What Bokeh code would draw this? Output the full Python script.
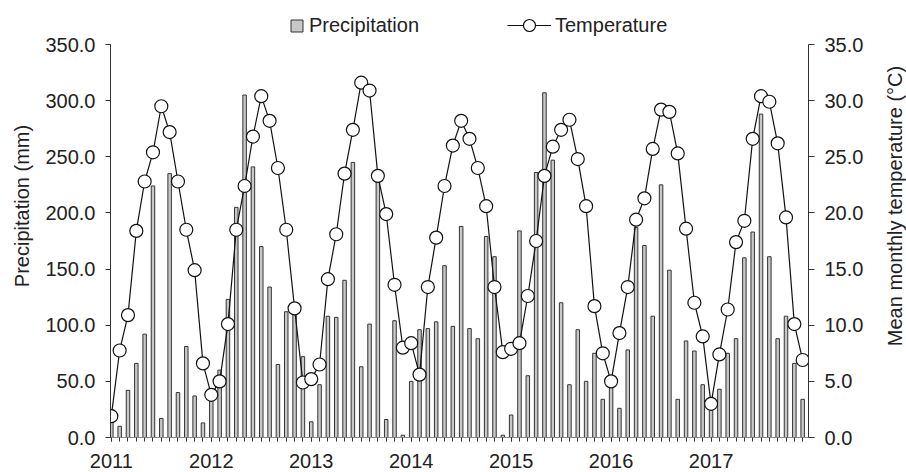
import math
from bokeh.plotting import figure
from bokeh.layouts import row
from bokeh.models import (Range1d, LinearAxis, FixedTicker, NumeralTickFormatter,
                          Legend, LegendItem, ColumnDataSource, Label)
from bokeh.embed import file_html
from bokeh.resources import INLINE

# ---- data ----
years = ["2011", "2012", "2013", "2014", "2015", "2016", "2017"]
months = list(range(84))
precipitation = [25, 10, 42, 66, 92, 224, 17, 235, 40, 81, 37, 13,
                 43, 60, 123, 205, 305, 241, 170, 134, 65, 112, 110, 72,
                 14, 47, 108, 107, 140, 245, 63, 101, 230, 16, 104, 2,
                 50, 96, 97, 103, 153, 99, 188, 97, 88, 179, 161, 2,
                 20, 184, 55, 236, 307, 247, 120, 47, 96, 50, 75, 34,
                 45, 26, 78, 187, 171, 108, 225, 149, 34, 86, 77, 47,
                 28, 43, 75, 88, 160, 183, 288, 161, 88, 108, 66, 34]
temperature = [1.9, 7.75, 10.9, 18.4, 22.8, 25.4, 29.5, 27.2, 22.8, 18.5, 14.9, 6.6,
               3.8, 5.0, 10.1, 18.5, 22.4, 26.8, 30.4, 28.2, 24.0, 18.5, 11.5, 4.9,
               5.2, 6.5, 14.1, 18.1, 23.5, 27.4, 31.6, 30.9, 23.3, 19.9, 13.6, 8.0,
               8.4, 5.6, 13.4, 17.8, 22.4, 26.0, 28.2, 26.6, 24.0, 20.6, 13.4, 7.6,
               7.9, 8.4, 12.6, 17.5, 23.3, 25.9, 27.4, 28.3, 24.8, 20.6, 11.7, 7.5,
               5.0, 9.3, 13.4, 19.4, 21.3, 25.7, 29.2, 29.0, 25.3, 18.6, 12.0, 9.0,
               3.0, 7.4, 11.4, 17.4, 19.3, 26.6, 30.4, 29.9, 26.2, 19.6, 10.1, 6.9]
precip_ticks = [0, 50, 100, 150, 200, 250, 300, 350]
temp_ticks = [0, 5, 10, 15, 20, 25, 30, 35]
left_title = "Precipitation (mm)"
right_title = "Mean monthly temperature (\u00b0C)"

FONT = "Liberation Sans"
FS = "20px"
TXT = "#222222"
H = 472

# axis spans 0..350 over 393 px; frame extends to the top of the canvas
PX_PER_MM = 393 / 350.0
P_TOP = 437 / PX_PER_MM
T_TOP = P_TOP / 10.0

src = ColumnDataSource(dict(m=months, p=precipitation, t=temperature))

LW, MW, RW = 36, 832, 38

p = figure(width=MW, height=H, output_backend="svg", toolbar_location=None,
           x_range=Range1d(-0.1, 83.7), y_range=Range1d(0, P_TOP),
           min_border_left=110 - LW, min_border_right=MW - (808 - LW),
           min_border_top=0, min_border_bottom=35, outline_line_color=None)
p.xgrid.visible = False
p.ygrid.visible = False
p.extra_y_ranges = {"temp": Range1d(0, T_TOP)}

bars = p.vbar(x="m", top="p", width=0.42, bottom=0, source=src,
              fill_color="#c8c8c8", line_color="#333333", line_width=1)
line = p.line(x="m", y="t", source=src, y_range_name="temp",
              line_color="#111111", line_width=1.2)
pts = p.scatter(x="m", y="t", source=src, y_range_name="temp", size=13,
                fill_color="white", line_color="#111111", line_width=1.2)

# bottom axis
xa = p.xaxis[0]
xa.ticker = FixedTicker(ticks=[12 * i for i in range(len(years))], minor_ticks=months)
xa.major_label_overrides = {12 * i: y for i, y in enumerate(years)}
xa.major_tick_out = 4
xa.major_tick_in = 0
xa.minor_tick_out = 4
xa.minor_tick_in = 0
xa.axis_line_color = "#888888"
xa.major_tick_line_color = "#333333"
xa.minor_tick_line_color = "#333333"
xa.major_label_standoff = 12
xa.major_label_text_font = FONT
xa.major_label_text_font_size = FS
xa.major_label_text_color = TXT

# left axis
ya = p.yaxis[0]
ya.ticker = FixedTicker(ticks=precip_ticks, minor_ticks=[])
ya.formatter = NumeralTickFormatter(format="0.0")
ya.bounds = (0, 350)
ya.major_tick_out = 5
ya.major_tick_in = 0
ya.major_label_standoff = 10
ya.axis_line_color = "#333333"
ya.major_tick_line_color = "#333333"
ya.major_label_text_font = FONT
ya.major_label_text_font_size = FS
ya.major_label_text_color = TXT

# right axis
ra = LinearAxis(y_range_name="temp", ticker=FixedTicker(ticks=temp_ticks, minor_ticks=[]),
                formatter=NumeralTickFormatter(format="0.0"), bounds=(0, 35))
ra.major_tick_out = 6
ra.major_tick_in = 0
ra.major_label_standoff = 10
ra.axis_line_color = "#333333"
ra.major_tick_line_color = "#333333"
ra.major_label_text_font = FONT
ra.major_label_text_font_size = FS
ra.major_label_text_color = TXT
p.add_layout(ra, "right")

# legends
leg1 = Legend(items=[LegendItem(label="Precipitation", renderers=[bars])],
              location=(179, 397), orientation="horizontal",
              glyph_width=15, glyph_height=15, label_standoff=5, label_height=30,
              label_text_font=FONT, label_text_font_size=FS, label_text_color=TXT,
              padding=0, margin=0, spacing=0, border_line_color=None,
              background_fill_alpha=0)
leg2 = Legend(items=[LegendItem(label="Temperature", renderers=[line, pts])],
              location=(397, 397), orientation="horizontal",
              glyph_width=44, glyph_height=30, label_standoff=4, label_height=30,
              label_text_font=FONT, label_text_font_size=FS, label_text_color=TXT,
              padding=0, margin=0, spacing=0, border_line_color=None,
              background_fill_alpha=0)
p.add_layout(leg1, "center")
p.add_layout(leg2, "center")

# axis titles (both read bottom-to-top, centred on the 0..350 axis span)
Y_MID = H - 240.5


def title_fig(w, text, x):
    f = figure(width=w, height=H, output_backend="svg", toolbar_location=None,
               x_axis_type=None, y_axis_type=None, x_range=Range1d(0, 1),
               y_range=Range1d(0, 1), min_border=0, outline_line_color=None)
    f.add_layout(Label(x=x, y=Y_MID, x_units="screen", y_units="screen", text=text,
                       angle=math.pi / 2, text_align="center", text_baseline="middle",
                       text_font=FONT, text_font_size=FS, text_color=TXT))
    return f


lf = title_fig(LW, left_title, 21)
rf = title_fig(RW, right_title, 26)

layout = row(lf, p, rf, spacing=0)
open("out.html", "w").write(file_html(layout, INLINE))
